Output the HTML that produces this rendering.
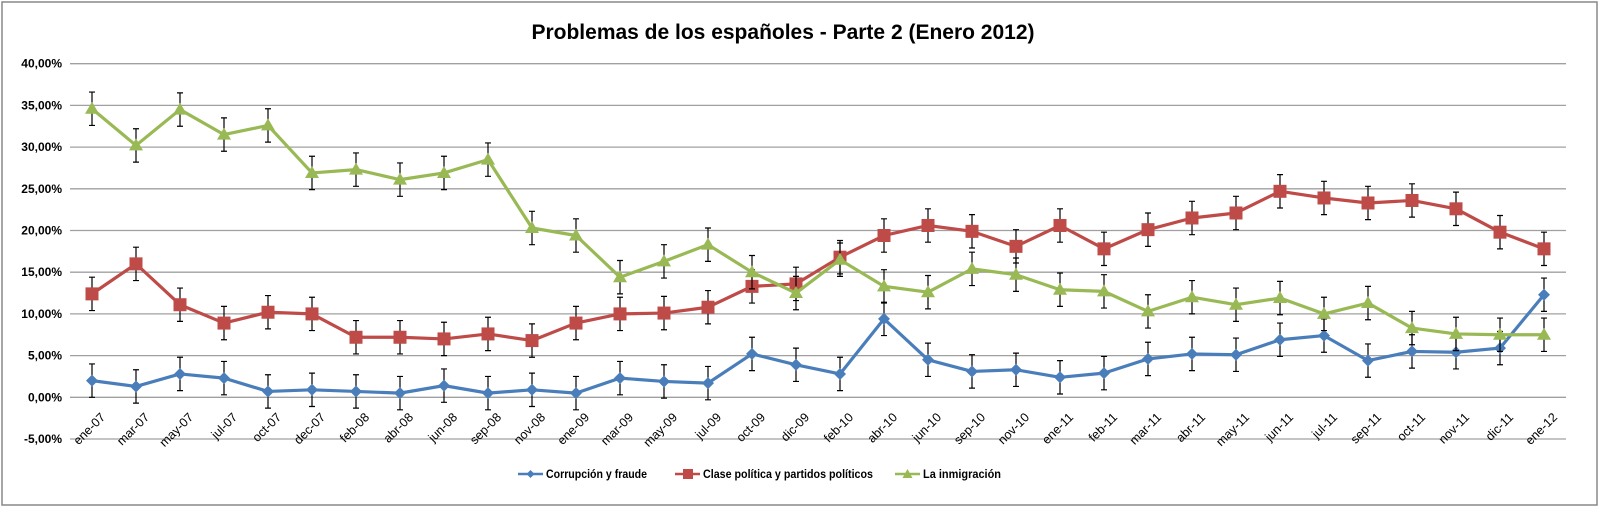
<!DOCTYPE html>
<html><head><meta charset="utf-8">
<style>
html,body{margin:0;padding:0;background:#fff;}
svg{display:block;font-family:"Liberation Sans",sans-serif;}
</style></head>
<body>
<svg id="chart" width="1600" height="509" viewBox="0 0 1600 509">
<rect x="2" y="2" width="1595" height="503" fill="#fff" stroke="#888" stroke-width="1.5"/>
<text x="783" y="39" text-anchor="middle" font-size="21" font-weight="bold" fill="#000">Problemas de los españoles - Parte 2 (Enero 2012)</text>
<g id="grid"></g><g id="yticks"></g><g id="xticks"></g><g id="series"></g>
<g id="legend"></g>
</svg>
<script>
const categories=["ene-07","mar-07","may-07","jul-07","oct-07","dec-07","feb-08","abr-08","jun-08","sep-08","nov-08","ene-09","mar-09","may-09","jul-09","oct-09","dic-09","feb-10","abr-10","jun-10","sep-10","nov-10","ene-11","feb-11","mar-11","abr-11","may-11","jun-11","jul-11","sep-11","oct-11","nov-11","dic-11","ene-12"];
const corrupcion=[2.0,1.3,2.8,2.3,0.7,0.9,0.7,0.5,1.4,0.5,0.9,0.5,2.3,1.9,1.7,5.2,3.9,2.8,9.4,4.5,3.1,3.3,2.4,2.9,4.6,5.2,5.1,6.9,7.4,4.4,5.5,5.4,5.9,12.3];
const clasePolitica=[12.4,16.0,11.1,8.9,10.2,10.0,7.2,7.2,7.0,7.6,6.8,8.9,10.0,10.1,10.8,13.3,13.6,16.8,19.4,20.6,19.9,18.1,20.6,17.8,20.1,21.5,22.1,24.7,23.9,23.3,23.6,22.6,19.8,17.8];
const inmigracion=[34.6,30.2,34.5,31.5,32.6,26.9,27.3,26.1,26.9,28.5,20.3,19.4,14.4,16.3,18.3,15.0,12.5,16.5,13.3,12.6,15.4,14.7,12.9,12.7,10.3,12.0,11.1,11.9,10.0,11.3,8.3,7.6,7.5,7.5];
const errorMargin=[2,2,2];
const yTicks=[-5,0,5,10,15,20,25,30,35,40];
const yTickLabels=["-5,00%","0,00%","5,00%","10,00%","15,00%","20,00%","25,00%","30,00%","35,00%","40,00%"];
const seriesNames=["Corrupción y fraude","Clase política y partidos políticos","La inmigración"];

const NS="http://www.w3.org/2000/svg";
const L=70,R=1566,Y0=397.3,Y40=63.7;
const step=(R-L)/categories.length;
const x=i=>L+step*(i+0.5);
const y=v=>Y0+(Y40-Y0)*v/40;
function mk(tag,attrs,parent){const e=document.createElementNS(NS,tag);for(const k in attrs)e.setAttribute(k,attrs[k]);parent.appendChild(e);return e;}
const grid=document.getElementById('grid'),yt=document.getElementById('yticks'),xt=document.getElementById('xticks'),sg=document.getElementById('series'),lg=document.getElementById('legend');
yTicks.forEach((t,i)=>{
 const ln=mk('line',{x1:L,x2:R,y1:y(t),y2:y(t),stroke:'#a0a0a0','stroke-width':1.3},grid);
 
 
 const tx=mk('text',{x:62,y:y(t)+4,'text-anchor':'end','font-size':12,'font-weight':'bold'},yt);
 tx.textContent=yTickLabels[i];
 
 
});
categories.forEach((c,i)=>{
 const px=x(i)+14,py=418;
 const tx=mk('text',{x:px,y:py,'text-anchor':'end','font-size':12.5,transform:`rotate(-45 ${px} ${py})`},xt);
 tx.textContent=c;
 
 
});
const colors=["#4a7ebb","#be4b48","#98b954"];
const data=[corrupcion,clasePolitica,inmigracion];
const names=["corrupcion","clase-politica","inmigracion"];
function marker(k,cx,cy,parent){
 let m;
 if(k===0) m=mk('polygon',{points:`${cx},${cy-6} ${cx+6},${cy} ${cx},${cy+6} ${cx-6},${cy}`,fill:colors[0]},parent);
 else if(k===1) m=mk('rect',{x:cx-6.5,y:cy-6.5,width:13,height:13,fill:colors[1]},parent);
 else m=mk('polygon',{points:`${cx},${cy-7} ${cx+7},${cy+5} ${cx-7},${cy+5}`,fill:colors[2]},parent);
 return m;
}
data.forEach((vals,k)=>{
 const g=mk('g',{},sg);
 
 
 vals.forEach((v,i)=>{
  const e=errorMargin[k];
  const eb=mk('path',{d:`M${x(i)},${y(v+e)}V${y(v-e)}M${x(i)-3},${y(v+e)}H${x(i)+3}M${x(i)-3},${y(v-e)}H${x(i)+3}`,stroke:'#000','stroke-width':1.2,fill:'none'},g);
  
  
 });
 const ln=mk('polyline',{points:vals.map((v,i)=>x(i)+','+y(v)).join(' '),fill:'none',stroke:colors[k],'stroke-width':3.2,'stroke-linejoin':'round'},g);
 
 
 vals.forEach((v,i)=>{
  const m=marker(k,x(i),y(v),g);
  
  
 });
});
const legX=[518,675,895];
const legW=[101,170,78];
seriesNames.forEach((n,k)=>{
 const g=mk('g',{},lg);
 
 
 mk('line',{x1:legX[k],x2:legX[k]+25,y1:474,y2:474,stroke:colors[k],'stroke-width':2.5},g);
 if(k===0) mk('polygon',{points:`${legX[k]+12.5},470 ${legX[k]+16.5},474 ${legX[k]+12.5},478 ${legX[k]+8.5},474`,fill:colors[0]},g);
 else if(k===1) mk('rect',{x:legX[k]+8,y:469,width:10,height:10,fill:colors[1]},g);
 else mk('polygon',{points:`${legX[k]+12.5},469 ${legX[k]+17.5},478 ${legX[k]+7.5},478`,fill:colors[2]},g);
 const t=mk('text',{x:legX[k]+28,y:478,'font-size':12,'font-weight':'bold',textLength:legW[k],lengthAdjust:'spacingAndGlyphs'},g);
 t.textContent=n;
});
</script>
</body></html>
